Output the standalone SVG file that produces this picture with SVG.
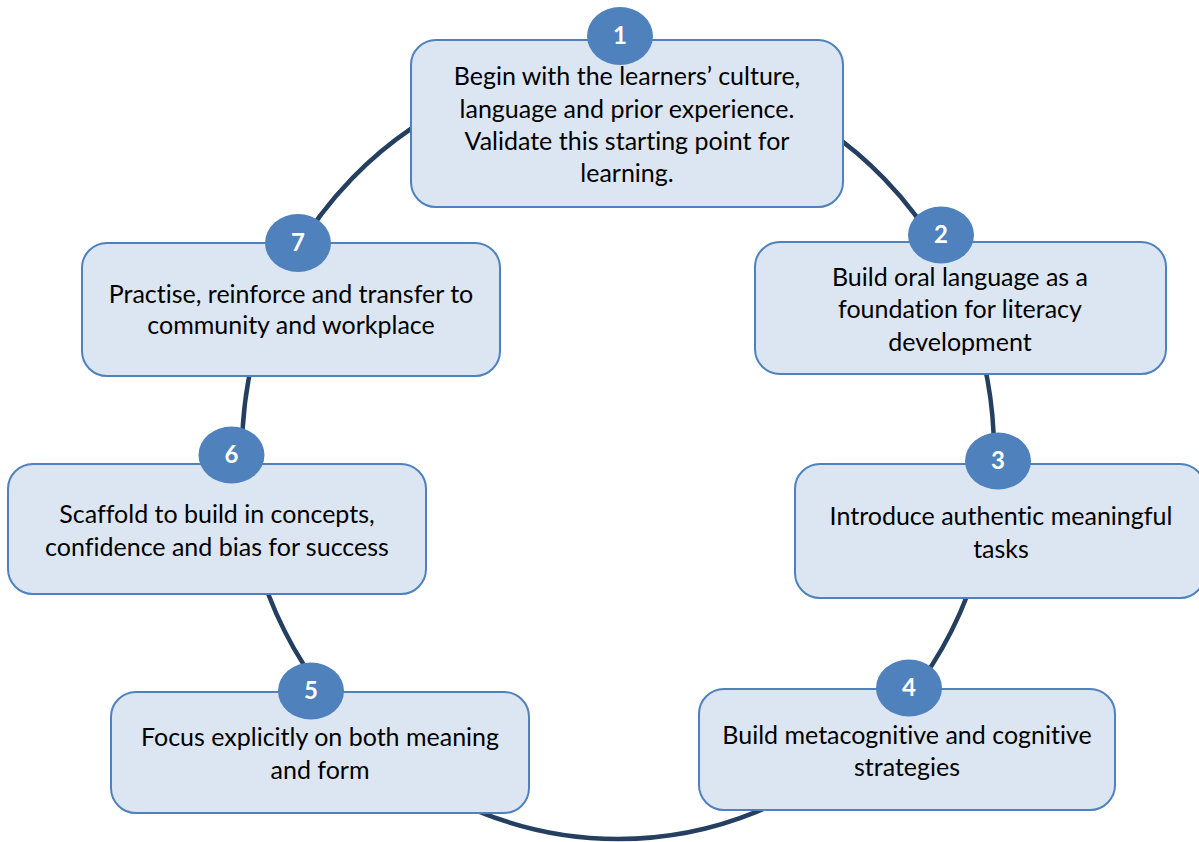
<svg xmlns="http://www.w3.org/2000/svg" width="1199" height="842" viewBox="0 0 1199 842">
  <style>
    .box { fill: #dce6f2; stroke: #4f81bd; stroke-width: 2; }
    .badge { fill: #4f81bd; }
    .num { font-family: Lato, "Liberation Sans", sans-serif; font-weight: bold; font-size: 24px; fill: #ffffff; text-anchor: middle; }
    .lbl { font-family: Lato, "Open Sans", "Liberation Sans", sans-serif; font-size: 25px; fill: #000000; text-anchor: middle; font-variant-ligatures: none; font-feature-settings: "liga" 0, "dlig" 0; }
    .ring { fill: none; stroke: #243f60; stroke-width: 4.5; }
  </style>
  <rect width="1199" height="842" fill="#ffffff"/>

  <!-- cycle ring behind the steps -->
  <g id="connectors">
    <ellipse class="ring" cx="618" cy="452" rx="376" ry="387"/>
  </g>

  <g id="step1">
    <rect class="box" x="411" y="40" width="432" height="167" rx="25"/>
    <ellipse class="badge" cx="620" cy="36" rx="33" ry="29"/>
    <text class="num" x="620" y="44">1</text>
    <text class="lbl" x="627" y="85">Begin with the learners’ culture,</text>
    <text class="lbl" x="627" y="118">language and prior experience.</text>
    <text class="lbl" x="627" y="150">Validate this starting point for</text>
    <text class="lbl" x="627" y="182">learning.</text>
  </g>

  <g id="step2">
    <rect class="box" x="755" y="242" width="411" height="132" rx="25"/>
    <ellipse class="badge" cx="941" cy="235" rx="33" ry="28.5"/>
    <text class="num" x="941" y="243">2</text>
    <text class="lbl" x="960" y="286">Build oral language as a</text>
    <text class="lbl" x="960" y="318">foundation for literacy</text>
    <text class="lbl" x="960" y="351">development</text>
  </g>

  <g id="step3">
    <rect class="box" x="795" y="464" width="410" height="134" rx="25"/>
    <ellipse class="badge" cx="998" cy="461" rx="33" ry="28.5"/>
    <text class="num" x="998" y="469">3</text>
    <text class="lbl" x="1001" y="525">Introduce authentic meaningful</text>
    <text class="lbl" x="1001" y="558">tasks</text>
  </g>

  <g id="step4">
    <rect class="box" x="699" y="689" width="416" height="121" rx="25"/>
    <ellipse class="badge" cx="909" cy="688" rx="33" ry="28.5"/>
    <text class="num" x="909" y="696">4</text>
    <text class="lbl" x="907" y="744">Build metacognitive and cognitive</text>
    <text class="lbl" x="907" y="776">strategies</text>
  </g>

  <g id="step5">
    <rect class="box" x="111" y="692" width="418" height="121" rx="25"/>
    <ellipse class="badge" cx="311" cy="691" rx="33" ry="28.5"/>
    <text class="num" x="311" y="699">5</text>
    <text class="lbl" x="320" y="746">Focus explicitly on both meaning</text>
    <text class="lbl" x="320" y="779">and form</text>
  </g>

  <g id="step6">
    <rect class="box" x="8" y="464" width="418" height="130" rx="25"/>
    <ellipse class="badge" cx="231.5" cy="455" rx="33" ry="28.5"/>
    <text class="num" x="231.5" y="463">6</text>
    <text class="lbl" x="217" y="523">Scaffold to build in concepts,</text>
    <text class="lbl" x="217" y="556">confidence and bias for success</text>
  </g>

  <g id="step7">
    <rect class="box" x="82" y="243" width="418" height="133" rx="25"/>
    <ellipse class="badge" cx="298" cy="243" rx="33" ry="29"/>
    <text class="num" x="298" y="251">7</text>
    <text class="lbl" x="291" y="303">Practise, reinforce and transfer to</text>
    <text class="lbl" x="291" y="334">community and workplace</text>
  </g>
</svg>
